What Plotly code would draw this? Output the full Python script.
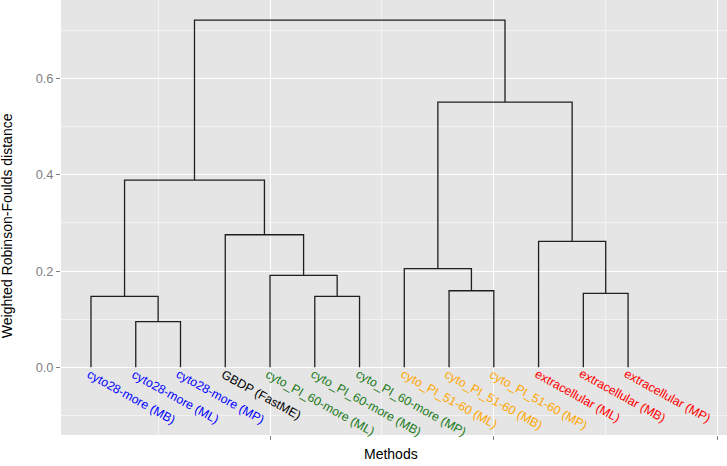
import plotly.graph_objects as go

# leaves in dendrogram order
leaf_labels = [
    "cyto28-more (MB)", "cyto28-more (ML)", "cyto28-more (MP)",
    "GBDP (FastME)",
    "cyto_PI_60-more (ML)", "cyto_PI_60-more (MB)", "cyto_PI_60-more (MP)",
    "cyto_PI_51-60 (ML)", "cyto_PI_51-60 (MB)", "cyto_PI_51-60 (MP)",
    "extracellular (ML)", "extracellular (MB)", "extracellular (MP)",
]
leaf_colors = [
    "#0000FF", "#0000FF", "#0000FF",
    "#000000",
    "#1a7a1a", "#1a7a1a", "#1a7a1a",
    "#FFA500", "#FFA500", "#FFA500",
    "#FF0000", "#FF0000", "#FF0000",
]

# merges: (child a, child b) -> new node id = 13, 14, ...
merge_left = [1, 0, 5, 4, 3, 14, 8, 7, 11, 10, 20, 18]
merge_right = [2, 13, 6, 15, 16, 17, 9, 19, 12, 21, 22, 23]
merge_height = [0.0947, 0.1475, 0.1475, 0.191, 0.2754, 0.389,
                0.159, 0.2048, 0.1537, 0.2617, 0.551, 0.7213]

n = len(leaf_labels)
node_x = {i: i + 1 for i in range(n)}
node_y = {i: 0.0 for i in range(n)}

xs, ys = [], []
for k, (a, b, h) in enumerate(zip(merge_left, merge_right, merge_height)):
    xa, xb = node_x[a], node_x[b]
    xs += [xa, xa, xb, xb, None]
    ys += [node_y[a], h, h, node_y[b], None]
    node_x[n + k] = (xa + xb) / 2
    node_y[n + k] = h

fig = go.Figure()
fig.add_trace(go.Scatter(
    x=xs, y=ys, mode="lines",
    line=dict(color="#1f1f1f", width=1.3),
    showlegend=False, hoverinfo="skip",
))

for i, (lab, col) in enumerate(zip(leaf_labels, leaf_colors)):
    fig.add_annotation(
        x=i + 1, y=0, xref="x", yref="y",
        text=lab, showarrow=False, textangle=29,
        xanchor="left", yanchor="top",
        xshift=-9, yshift=3,
        font=dict(color=col, size=12.3),
    )

font = "Liberation Sans, Arial, sans-serif"

fig.update_layout(
    width=727, height=466,
    margin=dict(l=61, r=0, t=0, b=31, autoexpand=False),
    paper_bgcolor="white",
    plot_bgcolor="#E5E5E5",
    font=dict(family=font),
    showlegend=False,
    xaxis=dict(
        range=[0.33, 15.21], automargin=False,
        tickvals=[5, 10, 15], showticklabels=False,
        ticks="outside", ticklen=4, tickcolor="#7F7F7F",
        gridcolor="white", gridwidth=1.2,
        minor=dict(tickvals=[2.5, 7.5, 12.5], gridcolor="#F2F2F2",
                   gridwidth=0.6, ticks=""),
        zeroline=False, showline=False,
    ),
    yaxis=dict(
        range=[-0.1406, 0.763], automargin=False,
        tickvals=[0, 0.2, 0.4, 0.6],
        ticktext=["0.0", "0.2", "0.4", "0.6"],
        tickfont=dict(color="#7F7F7F", size=12.8),
        ticks="outside", ticklen=4, tickcolor="#7F7F7F",
        gridcolor="white", gridwidth=1.2,
        minor=dict(tickvals=[-0.1, 0.1, 0.3, 0.5, 0.7], gridcolor="#F2F2F2",
                   gridwidth=0.6, ticks=""),
        zeroline=False, showline=False,
    ),
    annotations=list(fig.layout.annotations) + [
        dict(text="Methods", xref="paper", yref="paper", x=0.495, y=0,
             yshift=-19, xanchor="center", yanchor="middle", showarrow=False,
             font=dict(size=14, color="black")),
        dict(text="Weighted Robinson-Foulds distance", xref="paper",
             yref="paper", x=0, xshift=-54, y=0.48, textangle=-90,
             xanchor="center", yanchor="middle", showarrow=False,
             font=dict(size=14, color="black")),
    ],
)

# page has a default 8px body margin; drop it so the figure fills the window
fig.write_html("out.html", config={"displayModeBar": False},
               post_script="document.body.style.margin='0';")
